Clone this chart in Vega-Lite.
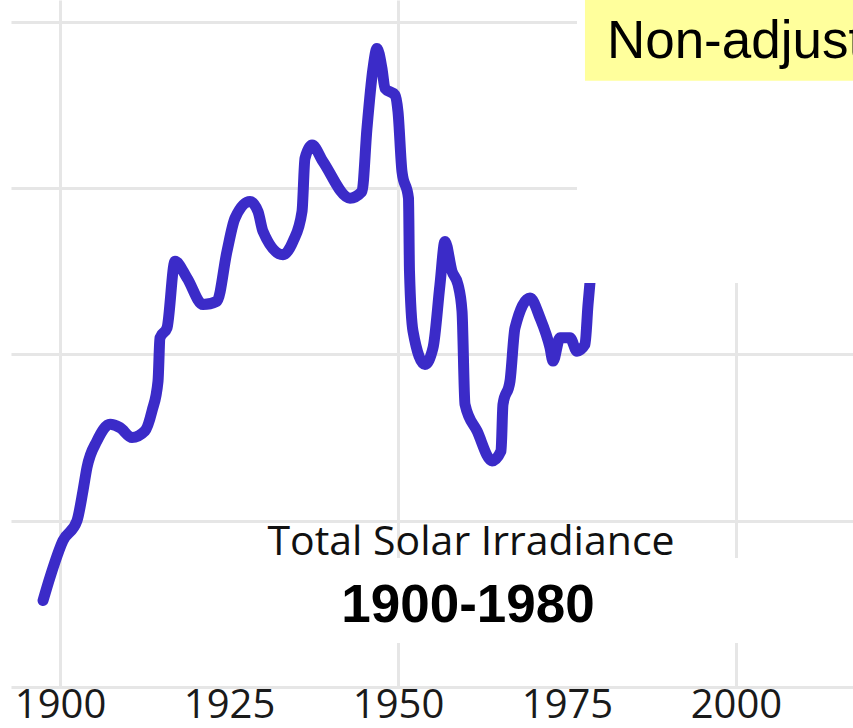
{
  "$schema": "https://vega.github.io/schema/vega-lite/v6.json",
  "width": 842,
  "height": 687,
  "autosize": {"type": "none"},
  "padding": {"left": 11, "top": 0, "right": 0, "bottom": 41},
  "background": "white",
  "config": {"view": {"stroke": null}},
  "layer": [
    {
      "data": {"values": [
        {"year": 1897.49, "tsi": 1360.26},
        {"year": 1898.52, "tsi": 1360.33},
        {"year": 1900.44, "tsi": 1360.44},
        {"year": 1902.51, "tsi": 1360.50},
        {"year": 1903.40, "tsi": 1360.59},
        {"year": 1903.99, "tsi": 1360.66},
        {"year": 1905.47, "tsi": 1360.74},
        {"year": 1907.40, "tsi": 1360.79},
        {"year": 1908.88, "tsi": 1360.78},
        {"year": 1910.65, "tsi": 1360.75},
        {"year": 1912.57, "tsi": 1360.77},
        {"year": 1913.61, "tsi": 1360.83},
        {"year": 1914.50, "tsi": 1360.92},
        {"year": 1914.79, "tsi": 1361.05},
        {"year": 1915.83, "tsi": 1361.08},
        {"year": 1917.01, "tsi": 1361.28},
        {"year": 1918.79, "tsi": 1361.23},
        {"year": 1921.15, "tsi": 1361.15},
        {"year": 1923.22, "tsi": 1361.16},
        {"year": 1924.70, "tsi": 1361.31},
        {"year": 1925.89, "tsi": 1361.41},
        {"year": 1928.11, "tsi": 1361.46},
        {"year": 1929.29, "tsi": 1361.43},
        {"year": 1930.03, "tsi": 1361.37},
        {"year": 1932.99, "tsi": 1361.30},
        {"year": 1934.47, "tsi": 1361.34},
        {"year": 1935.80, "tsi": 1361.43},
        {"year": 1936.24, "tsi": 1361.59},
        {"year": 1937.28, "tsi": 1361.63},
        {"year": 1938.91, "tsi": 1361.58},
        {"year": 1942.90, "tsi": 1361.47},
        {"year": 1944.67, "tsi": 1361.49},
        {"year": 1945.41, "tsi": 1361.68},
        {"year": 1946.30, "tsi": 1361.86},
        {"year": 1946.89, "tsi": 1361.92},
        {"year": 1947.63, "tsi": 1361.86},
        {"year": 1948.08, "tsi": 1361.80},
        {"year": 1949.56, "tsi": 1361.78},
        {"year": 1950.00, "tsi": 1361.73},
        {"year": 1950.59, "tsi": 1361.55},
        {"year": 1951.55, "tsi": 1361.47},
        {"year": 1951.70, "tsi": 1361.25},
        {"year": 1952.22, "tsi": 1361.07},
        {"year": 1953.99, "tsi": 1360.97},
        {"year": 1955.18, "tsi": 1361.02},
        {"year": 1956.21, "tsi": 1361.21},
        {"year": 1956.95, "tsi": 1361.34},
        {"year": 1957.99, "tsi": 1361.25},
        {"year": 1958.88, "tsi": 1361.21},
        {"year": 1959.47, "tsi": 1361.13},
        {"year": 1959.91, "tsi": 1360.85},
        {"year": 1961.69, "tsi": 1360.77},
        {"year": 1963.91, "tsi": 1360.68},
        {"year": 1965.24, "tsi": 1360.71},
        {"year": 1965.53, "tsi": 1360.85},
        {"year": 1966.57, "tsi": 1360.92},
        {"year": 1967.31, "tsi": 1361.08},
        {"year": 1969.53, "tsi": 1361.17},
        {"year": 1971.01, "tsi": 1361.11},
        {"year": 1972.49, "tsi": 1361.02},
        {"year": 1972.93, "tsi": 1360.98},
        {"year": 1973.96, "tsi": 1361.05},
        {"year": 1975.44, "tsi": 1361.05},
        {"year": 1976.48, "tsi": 1361.01},
        {"year": 1977.66, "tsi": 1361.03},
        {"year": 1978.11, "tsi": 1361.15},
        {"year": 1978.55, "tsi": 1361.25}
      ]},
      "mark": {"type": "line", "color": "#3b2bc8", "strokeWidth": 11, "strokeCap": "round", "strokeJoin": "round", "interpolate": "monotone"},
      "encoding": {
        "x": {
          "field": "year", "type": "quantitative",
          "scale": {"domain": [1892.75, 2017.31], "nice": false, "zero": false},
          "axis": {
            "values": [1900, 1925, 1950, 1975, 2000], "title": null, "format": "d",
            "labelFont": "Open Sans", "labelFontSize": 40, "labelColor": "#1a1a1a",
            "labelBaseline": "alphabetic", "labelPadding": 30, "ticks": false, "tickSize": 0,
            "domain": false, "grid": true, "gridColor": "#e6e6e6", "gridWidth": 3,
            "gridOpacity": {"condition": {"test": "datum.value % 50 === 0", "value": 1}, "value": 0},
            "labelFlush": false, "labelOverlap": false
          }
        },
        "y": {
          "field": "tsi", "type": "quantitative",
          "scale": {"domain": [1360, 1362.066], "nice": false, "zero": false},
          "axis": {
            "values": [1360, 1360.5, 1361, 1361.5, 1362], "title": null, "labels": false,
            "ticks": false, "domain": false, "grid": true, "gridColor": "#e6e6e6", "gridWidth": 3
          }
        }
      }
    },
    {
      "data": {"values": [{"box": "cover"}]},
      "mark": {"type": "rect", "color": "white"},
      "encoding": {
        "x": {"datum": 1976.48, "type": "quantitative"},
        "x2": {"datum": 2017.31},
        "y": {"datum": 1361.215, "type": "quantitative"},
        "y2": {"datum": 1362.066}
      }
    },
    {
      "data": {"values": [{"box": "subtitle"}]},
      "mark": {"type": "rect", "color": "white"},
      "encoding": {
        "x": {"datum": 1935.5, "type": "quantitative"},
        "x2": {"datum": 2009.5},
        "y": {"datum": 1360.132, "type": "quantitative"},
        "y2": {"datum": 1360.388}
      }
    },
    {
      "data": {"values": [{"box": "label"}]},
      "mark": {"type": "rect", "color": "#ffff9c"},
      "encoding": {
        "x": {"datum": 1977.66, "type": "quantitative"},
        "x2": {"datum": 2017.31},
        "y": {"datum": 1361.823, "type": "quantitative"},
        "y2": {"datum": 1362.066}
      }
    },
    {
      "data": {"values": [{"t": "Non-adjusted"}]},
      "mark": {"type": "text", "font": "Liberation Sans", "fontSize": 53, "align": "left", "baseline": "alphabetic", "color": "#000000", "clip": true},
      "encoding": {
        "x": {"datum": 1980.9, "type": "quantitative"},
        "y": {"datum": 1361.892, "type": "quantitative"},
        "text": {"field": "t"}
      }
    },
    {
      "data": {"values": [{"t": "Total Solar Irradiance"}]},
      "mark": {"type": "text", "font": "Open Sans", "fontSize": 41, "fontWeight": 500, "align": "center", "baseline": "alphabetic", "color": "#111111"},
      "encoding": {
        "x": {"datum": 1960.8, "type": "quantitative"},
        "y": {"datum": 1360.397, "type": "quantitative"},
        "text": {"field": "t"}
      }
    },
    {
      "data": {"values": [{"t": "1900-1980"}]},
      "mark": {"type": "text", "font": "Liberation Sans", "fontSize": 53, "fontWeight": "bold", "align": "center", "baseline": "alphabetic", "color": "#000000"},
      "encoding": {
        "x": {"datum": 1960.36, "type": "quantitative"},
        "y": {"datum": 1360.195, "type": "quantitative"},
        "text": {"field": "t"}
      }
    }
  ]
}
